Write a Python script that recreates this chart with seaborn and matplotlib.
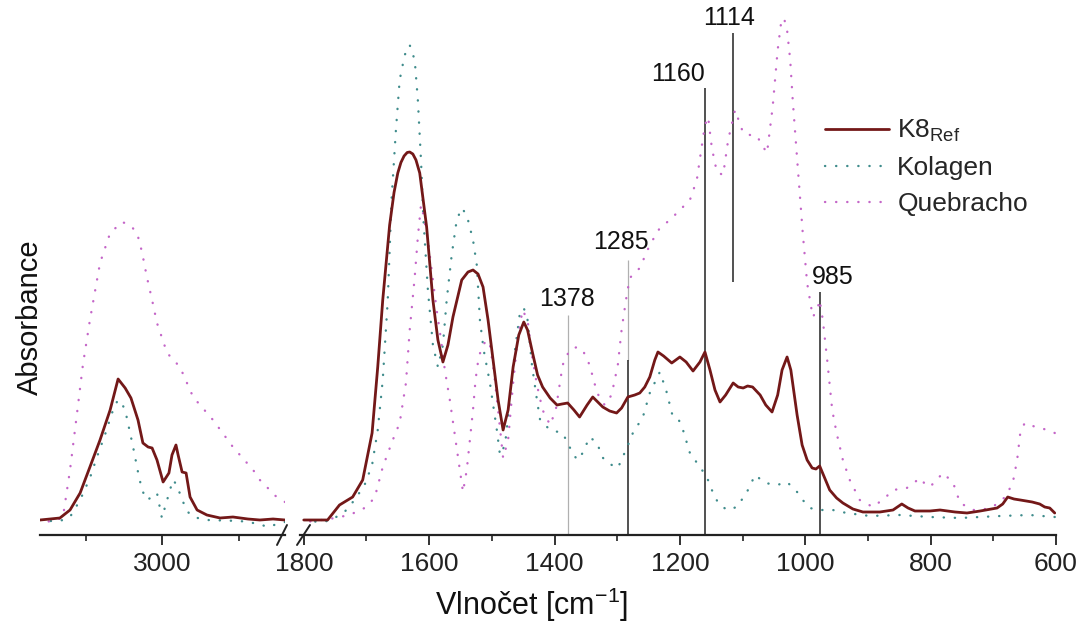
import matplotlib
matplotlib.use("Agg")
import matplotlib.pyplot as plt
import seaborn as sns
from matplotlib.lines import Line2D

# ---- data: wavenumber (cm-1) and absorbance (a.u.) ----
# high-wavenumber window (3400-2600)
K8_HI_WN = [3400, 3367, 3335, 3302, 3269, 3237, 3204, 3171, 3145, 3122, 3103, 3080, 3064, 3047,
            3034, 3018, 2998, 2979, 2969, 2956, 2949, 2936, 2923, 2910, 2887, 2855, 2812, 2770,
            2721, 2682, 2639, 2600]
K8_HI_A = [0.03, 0.032, 0.034, 0.05, 0.084, 0.136, 0.19, 0.25, 0.312, 0.294, 0.274, 0.23, 0.184,
           0.176, 0.174, 0.15, 0.106, 0.124, 0.16, 0.18, 0.16, 0.126, 0.124, 0.076, 0.05, 0.04,
           0.034, 0.036, 0.032, 0.03, 0.032, 0.03]

KOL_HI_WN = [3400, 3335, 3302, 3269, 3237, 3214, 3188, 3165, 3149, 3139, 3122, 3096, 3080, 3067,
             3051, 3034, 3018, 3002, 2985, 2966, 2953, 2936, 2917, 2900, 2855, 2747, 2682, 2659,
             2600]
KOL_HI_A = [0.028, 0.028, 0.036, 0.07, 0.114, 0.156, 0.2, 0.244, 0.266, 0.27, 0.25, 0.176, 0.126,
            0.09, 0.07, 0.076, 0.084, 0.034, 0.07, 0.11, 0.1, 0.07, 0.046, 0.036, 0.03, 0.028,
            0.022, 0.016, 0.026]

QUE_HI_WN = [3400, 3351, 3325, 3302, 3279, 3260, 3237, 3204, 3171, 3132, 3106, 3083, 3067, 3051,
             3034, 3018, 2985, 2943, 2900, 2835, 2770, 2704, 2682, 2659, 2642, 2623, 2600]
QUE_HI_A = [0.026, 0.028, 0.036, 0.13, 0.244, 0.34, 0.43, 0.544, 0.604, 0.626, 0.62, 0.604, 0.566,
            0.516, 0.47, 0.424, 0.364, 0.336, 0.276, 0.23, 0.176, 0.13, 0.11, 0.096, 0.084, 0.074,
            0.066]

# fingerprint window (1800-600)
K8_LO_WN = [1800, 1762, 1743, 1722, 1706, 1691, 1682, 1674, 1663, 1656, 1650, 1645, 1640, 1635,
            1631, 1626, 1621, 1615,
            1604, 1594, 1586, 1578, 1570, 1562, 1548, 1538, 1530, 1522, 1514, 1506, 1498, 1490,
            1482, 1474, 1466, 1457, 1449, 1443, 1435, 1427, 1419, 1407, 1396, 1388, 1379, 1369,
            1360, 1348, 1339, 1331, 1323, 1312, 1301, 1293, 1283, 1272, 1264, 1256, 1248, 1240,
            1235, 1226, 1213, 1200, 1190, 1179, 1168, 1160, 1152, 1144, 1136, 1127, 1115, 1107,
            1099, 1092, 1084, 1072, 1063, 1053, 1044, 1037, 1029, 1023, 1013, 1005, 997, 989,
            983, 977, 969, 961, 950, 940, 924, 908, 881, 860, 846, 836, 825, 801, 785, 761, 742,
            721, 694, 685, 677, 667, 657, 638, 626, 618, 610, 602]
K8_LO_A = [0.03, 0.03, 0.06, 0.076, 0.11, 0.204, 0.336, 0.47, 0.62, 0.685, 0.724, 0.745, 0.758,
           0.765, 0.766, 0.762, 0.75,
           0.724, 0.616, 0.47, 0.39, 0.346, 0.38, 0.436, 0.51, 0.526, 0.53, 0.522, 0.496, 0.43,
           0.35, 0.27, 0.21, 0.25, 0.336, 0.4, 0.426, 0.41, 0.364, 0.32, 0.296, 0.274, 0.26,
           0.262, 0.264, 0.25, 0.236, 0.26, 0.276, 0.266, 0.256, 0.248, 0.244, 0.254, 0.276,
           0.28, 0.284, 0.296, 0.316, 0.35, 0.366, 0.358, 0.344, 0.356, 0.346, 0.328, 0.346,
           0.366, 0.33, 0.29, 0.266, 0.28, 0.304, 0.296, 0.294, 0.298, 0.296, 0.28, 0.26, 0.246,
           0.28, 0.33, 0.356, 0.33, 0.24, 0.18, 0.15, 0.134, 0.132, 0.138, 0.114, 0.09, 0.074,
           0.064, 0.052, 0.046, 0.046, 0.05, 0.062, 0.054, 0.048, 0.048, 0.05, 0.046, 0.044,
           0.048, 0.054, 0.062, 0.076, 0.072, 0.07, 0.066, 0.062, 0.056, 0.054, 0.044]

KOL_LO_WN = [1798, 1759, 1735, 1719, 1703, 1691, 1682, 1674, 1666, 1660, 1653, 1647, 1639, 1631,
             1623, 1618, 1613, 1609, 1602, 1594, 1586, 1578, 1572, 1564, 1556, 1548, 1540, 1530,
             1524, 1519, 1513, 1503, 1492, 1487, 1479, 1471, 1463, 1455, 1449, 1443, 1436, 1428,
             1423, 1407, 1387, 1376, 1364, 1355, 1344, 1332, 1324, 1315, 1299, 1284, 1275, 1259,
             1248, 1232, 1222, 1212, 1203, 1195, 1184, 1168, 1157, 1149, 1139, 1125, 1109, 1093,
             1080, 1064, 1045, 1029, 1013, 1004, 993, 977, 956, 934, 897, 849, 801, 753, 689,
             642, 602]
KOL_LO_A = [0.026, 0.028, 0.046, 0.07, 0.1, 0.14, 0.21, 0.31, 0.47, 0.67, 0.81, 0.91, 0.96, 0.98,
            0.95, 0.87, 0.75, 0.63, 0.49, 0.38, 0.336, 0.38, 0.47, 0.56, 0.63, 0.654, 0.64, 0.59,
            0.54, 0.43, 0.37, 0.304, 0.21, 0.16, 0.18, 0.27, 0.37, 0.446, 0.454, 0.43, 0.34, 0.27,
            0.23, 0.21, 0.204, 0.176, 0.15, 0.164, 0.196, 0.184, 0.156, 0.144, 0.134, 0.176,
            0.204, 0.236, 0.284, 0.326, 0.29, 0.24, 0.234, 0.21, 0.164, 0.136, 0.116, 0.09, 0.064,
            0.05, 0.056, 0.086, 0.12, 0.104, 0.1, 0.106, 0.086, 0.07, 0.054, 0.05, 0.05, 0.044,
            0.038, 0.04, 0.036, 0.034, 0.038, 0.04, 0.036]

QUE_LO_WN = [1798, 1759, 1727, 1703, 1687, 1674, 1658, 1647, 1637, 1631, 1623, 1618, 1613, 1609,
             1602, 1596, 1588, 1581, 1575, 1567, 1559, 1551, 1546, 1540, 1535, 1530, 1526, 1521,
             1514, 1508, 1503, 1497, 1490, 1482, 1474, 1466, 1459, 1451, 1443, 1436, 1428, 1419,
             1407, 1398, 1387, 1376, 1364, 1355, 1344, 1332, 1320, 1309, 1299, 1293, 1286, 1280,
             1264, 1248, 1232, 1216, 1200, 1184, 1173, 1166, 1160, 1155, 1149, 1141, 1131, 1123,
             1112, 1099, 1088, 1077, 1069, 1061, 1052, 1044, 1039, 1034, 1029, 1024, 1020, 1012,
             1004, 997, 988, 981, 977, 972, 965, 957, 950, 940, 929, 913, 892, 873, 860, 849, 838,
             827, 817, 809, 801, 791, 780, 772, 764, 753, 732, 713, 701, 681, 669, 662, 657, 650,
             637, 626, 613, 602]
QUE_LO_A = [0.026, 0.032, 0.04, 0.054, 0.074, 0.136, 0.19, 0.224, 0.304, 0.41, 0.516, 0.596, 0.66,
            0.64, 0.59, 0.53, 0.45, 0.39, 0.33, 0.27, 0.2, 0.13, 0.086, 0.13, 0.19, 0.25, 0.31,
            0.356, 0.38, 0.39, 0.38, 0.33, 0.25, 0.154, 0.19, 0.304, 0.39, 0.45, 0.43, 0.36, 0.3,
            0.25, 0.22, 0.25, 0.34, 0.37, 0.376, 0.37, 0.34, 0.284, 0.26, 0.28, 0.34, 0.41, 0.47,
            0.514, 0.534, 0.58, 0.614, 0.63, 0.65, 0.67, 0.71, 0.77, 0.82, 0.836, 0.774, 0.726,
            0.72, 0.79, 0.85, 0.804, 0.8, 0.798, 0.78, 0.764, 0.856, 0.97, 1.02, 1.034, 1.01,
            0.95, 0.87, 0.736, 0.604, 0.504, 0.436, 0.45, 0.47, 0.43, 0.35, 0.25, 0.204, 0.15,
            0.11, 0.07, 0.056, 0.074, 0.09, 0.092, 0.094, 0.104, 0.114, 0.102, 0.096, 0.11, 0.124,
            0.114, 0.104, 0.064, 0.05, 0.052, 0.056, 0.076, 0.104, 0.15, 0.204, 0.224, 0.218,
            0.214, 0.21, 0.204]

# marked bands: label, line position, top / bottom of line, label anchor
BAND_LABELS = ["1378", "1285", "1160", "1114", "985"]
BAND_POS = [1378, 1283, 1160, 1116, 977]
BAND_TOP = [0.44, 0.55, 0.894, 1.004, 0.486]
BAND_BOTTOM = [0.0, 0.0, 0.0, 0.506, 0.0]
LABEL_X = [1380, 1294, 1160, 1121, 990]
LABEL_Y = [0.448, 0.562, 0.898, 1.01, 0.492]
LABEL_HA = ["center", "center", "right", "center", "left"]

SERIES = ["K8$_{\\mathrm{Ref}}$", "Kolagen", "Quebracho"]
COLORS = ["#731818", "#3f8c8c", "#c466c8"]

sns.set_theme(style="white")
plt.rcParams["font.family"] = ["Liberation Sans", "DejaVu Sans"]
plt.rcParams["mathtext.fontset"] = "custom"
plt.rcParams["mathtext.rm"] = "Liberation Sans"

fig = plt.figure(figsize=(10.84, 6.36), dpi=100)
ax_hi = fig.add_axes([40 / 1084, 1 - 535 / 636, 245 / 1084, 535 / 636])
ax_lo = fig.add_axes([300 / 1084, 1 - 535 / 636, 756 / 1084, 535 / 636])

dotted = dict(linestyle=(0, (0.1, 4.6)), dash_capstyle="round", linewidth=1.7)
hi_data = [(K8_HI_WN, K8_HI_A), (KOL_HI_WN, KOL_HI_A), (QUE_HI_WN, QUE_HI_A)]
lo_data = [(K8_LO_WN, K8_LO_A), (KOL_LO_WN, KOL_LO_A), (QUE_LO_WN, QUE_LO_A)]

for i, (name, color) in enumerate(zip(SERIES, COLORS)):
    style = dict(linewidth=2.0) if i == 0 else dotted
    zorder = 3 if i == 0 else 2
    sns.lineplot(x=hi_data[i][0], y=hi_data[i][1], ax=ax_hi, color=color,
                 estimator=None, zorder=zorder, **style)
    sns.lineplot(x=lo_data[i][0], y=lo_data[i][1], ax=ax_lo, color=color,
                 estimator=None, label=name, zorder=zorder, **style)

# band markers
for lab, pos, top, bot, lx, ly, ha in zip(BAND_LABELS, BAND_POS, BAND_TOP, BAND_BOTTOM,
                                          LABEL_X, LABEL_Y, LABEL_HA):
    if lab == "1378":
        ax_lo.vlines(pos, bot, top, color="#b0b0b0", linewidth=0.9, zorder=1)
    elif lab == "1285":
        ax_lo.vlines(pos, 0.35, top, color="#b0b0b0", linewidth=0.9, zorder=1)
        ax_lo.vlines(pos, bot, 0.35, color="#222222", linewidth=1.1, zorder=1)
    else:
        ax_lo.vlines(pos, bot, top, color="#222222", linewidth=1.1, zorder=1)
    ax_lo.text(lx, ly, lab, ha=ha, va="bottom", fontsize=18, color="#111111")

for ax in (ax_hi, ax_lo):
    ax.set_ylim(0, 1.07)
    ax.set_yticks([])
    ax.set_xlabel("")
    ax.set_ylabel("")
    for side in ("top", "right", "left"):
        ax.spines[side].set_visible(False)
    ax.spines["bottom"].set_linewidth(1.6)
    ax.spines["bottom"].set_color("#222222")
    ax.tick_params(axis="x", which="major", direction="out", length=7, width=1.3,
                   labelsize=19, pad=5, colors="#222222", bottom=True)
    ax.tick_params(axis="x", which="minor", direction="out", length=4, width=1.2,
                   colors="#222222", bottom=True)
    ax.patch.set_alpha(0)

ax_hi.set_xlim(3400, 2600)
ax_hi.set_xticks([3000])
ax_hi.set_xticks([3250, 2750], minor=True)

ax_lo.set_xlim(1806, 600)
ax_lo.set_xticks([1800, 1600, 1400, 1200, 1000, 800, 600])
ax_lo.set_xticks([1700, 1500, 1300, 1100, 900, 700], minor=True)

# axis break marks
for x0, x1 in ((277, 287), (297, 310)):
    fig.add_artist(Line2D([x0 / 1084, x1 / 1084], [1 - 545 / 636, 1 - 525 / 636],
                          color="#222222", linewidth=1.4))

leg = ax_lo.legend(loc="upper left", bbox_to_anchor=(801 / 1084, 1 - 94 / 636),
                   bbox_transform=fig.transFigure, frameon=False, fontsize=19,
                   handlelength=2.45, handletextpad=0.3, labelspacing=0.45)

fig.text(532 / 1084, 1 - 605 / 636, "Vlnočet [cm$^{-1}$]", ha="center", va="center",
         fontsize=22, color="#111111")
fig.text(30 / 1084, 1 - 317 / 636, "Absorbance", rotation=90, ha="center", va="center",
         fontsize=21, color="#111111")

fig.savefig("out.png", dpi=100)
